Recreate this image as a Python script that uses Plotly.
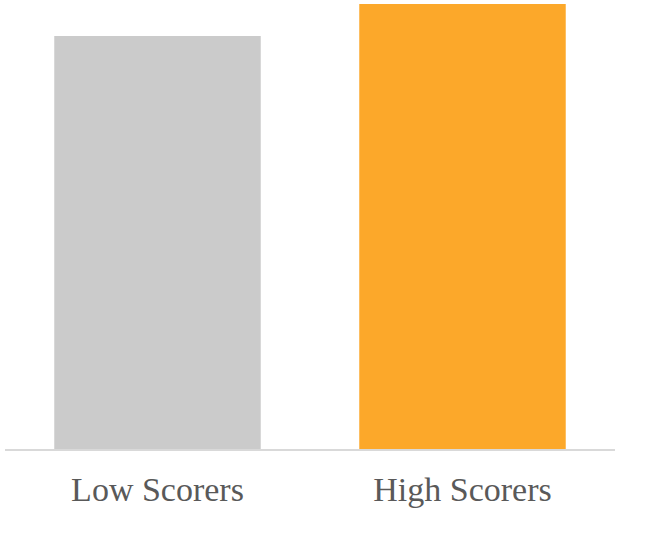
import plotly.graph_objects as go

# Data (relative bar heights, no value axis shown)
groups = ["Low Scorers", "High Scorers"]
scores = [0.928, 1.0]
bar_colors = ["#cbcbcb", "#fca82a"]

fig = go.Figure()

fig.add_trace(go.Bar(
    x=groups,
    y=scores,
    width=0.677,
    marker=dict(color=bar_colors, line=dict(width=0)),
    showlegend=False,
    hoverinfo="x+y",
))

fig.update_layout(
    width=658,
    height=533,
    margin=dict(l=5, r=43, t=4, b=84),
    paper_bgcolor="white",
    plot_bgcolor="white",
    font=dict(family="Liberation Serif, DejaVu Serif, serif", size=34, color="#595959"),
)

fig.update_xaxes(
    showgrid=False,
    showline=True,
    linecolor="#d9d9d9",
    linewidth=2,
    ticks="outside",
    ticklen=9,
    tickcolor="rgba(0,0,0,0)",
    tickfont=dict(size=34, color="#595959"),
    range=[-0.5, 1.5],
)
fig.update_yaxes(
    showgrid=False,
    showticklabels=False,
    zeroline=False,
    range=[0, max(scores)],
)

# drop the default page margin so the figure sits flush in the window
fig.write_html(
    "out.html",
    config={"displayModeBar": False},
    post_script="document.body.style.margin='0';",
)
